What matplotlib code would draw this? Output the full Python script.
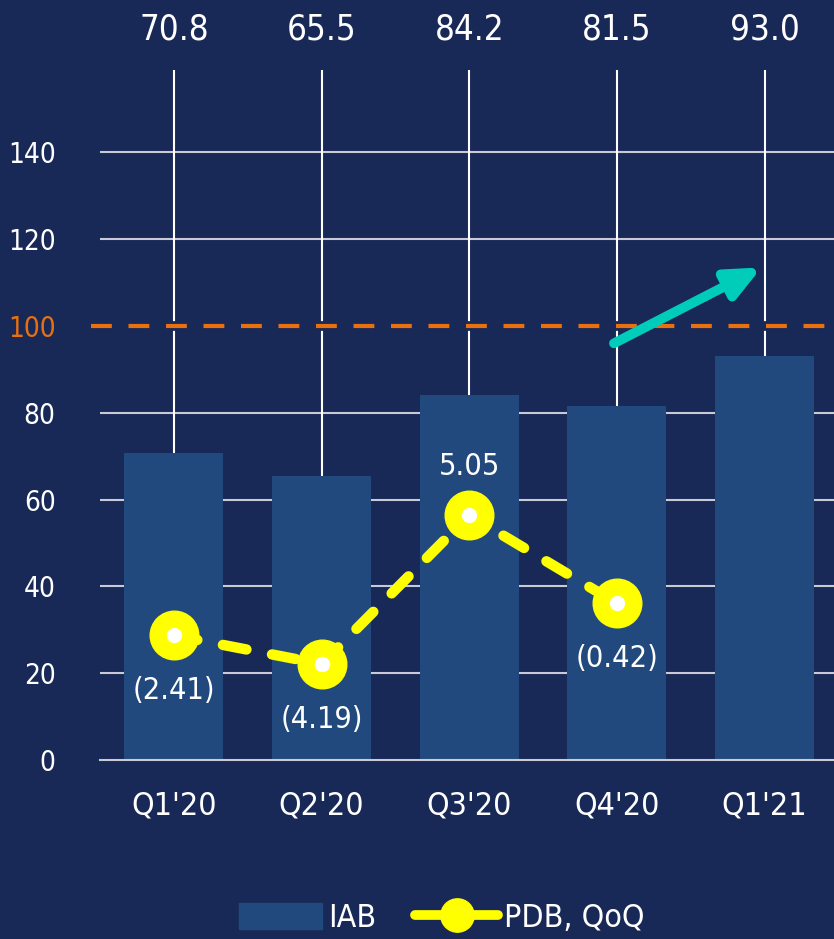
import matplotlib.pyplot as plt
import numpy as np
from matplotlib.patches import Patch
from matplotlib.lines import Line2D

# Quarterly IAB volume and PDB quarter-over-quarter change
quarters = ["Q1'20", "Q2'20", "Q3'20", "Q4'20", "Q1'21"]
iab = [70.8, 65.5, 84.2, 81.5, 93.0]
pdb_qoq = [-2.41, -4.19, 5.05, -0.42]
pdb_labels = ["(2.41)", "(4.19)", "5.05", "(0.42)"]
y_ticks = [0, 20, 40, 60, 80, 100, 120, 140]
target = 100

# colours
BG = "#182957"
BAR = "#21497d"
ORANGE = "#e8700f"
YELLOW = "#ffff00"
TEAL = "#00cdb9"

plt.rcParams['font.family'] = ['DejaVu Sans']
plt.rcParams['font.stretch'] = 'condensed'

fig = plt.figure(figsize=(8.34, 9.39), dpi=100, facecolor=BG)
ax = fig.add_axes([0.1199, 0.1906, 0.8801, 0.7349])
ax.set_facecolor(BG)

x = np.arange(len(quarters))
ax.set_xlim(-0.5, 4.47)
ax.set_ylim(0, 159)

# grid: horizontal light lines, vertical white lines through each quarter
for yv in y_ticks[1:]:
    ax.axhline(yv, color="#c9cad6", lw=1.5, zorder=0)
for xv in x:
    ax.axvline(xv, color="white", lw=1.5, zorder=0)

ax.bar(x, iab, width=0.67, color=BAR, zorder=2)

# target line with a background-coloured gap behind it
ax.axhline(target, color=BG, lw=7, zorder=1)
ax.plot([-0.56, 4.47], [target, target], color=ORANGE, lw=3,
        dashes=(5, 4), zorder=3, clip_on=False)

# bar values above the plot area
for xi, v in zip(x, iab):
    ax.text(xi, 1.058, f"{v:.1f}", transform=ax.get_xaxis_transform(),
            ha="center", va="center", color="white", fontsize=25)

# PDB change on a hidden secondary scale
ax2 = ax.twinx()
ax2.set_ylim(-10.15, 32.7)
ax2.axis("off")
ax2.plot(x[:4], pdb_qoq, color=YELLOW, lw=7.5, dashes=(2.3, 2.5),
         dash_capstyle="round", zorder=4)
ax2.plot(x[:4], pdb_qoq, "o", color=YELLOW, markersize=35, zorder=5)
ax2.plot(x[:4], pdb_qoq, "o", color="white", markersize=10, zorder=6)
for xi, v, lab in zip(x[:4], pdb_qoq, pdb_labels):
    off = 35 if v > 0 else -40
    ax2.annotate(lab, (xi, v), xytext=(0, off), textcoords="offset points",
                 ha="center", va="center", color="white", fontsize=22)

# upward trend arrow
ax2.annotate("", xy=(3.98, (113.5 - 37.66) / 3.71),
             xytext=(2.98, (96.0 - 37.66) / 3.71),
             arrowprops=dict(arrowstyle="-|>,head_length=2.0,head_width=0.9",
                             color=TEAL, lw=7, shrinkA=0, shrinkB=0))

# axes styling
for s in ["top", "right", "left"]:
    ax.spines[s].set_visible(False)
ax.spines["bottom"].set_color("#c9cad6")
ax.spines["bottom"].set_linewidth(1.5)
ax.set_xticks(x)
ax.set_xticklabels(quarters)
ax.set_yticks(y_ticks)
ax.tick_params(axis="both", length=0, colors="white")
ax.tick_params(axis="x", labelsize=23, pad=22)
ax.tick_params(axis="y", labelsize=20, pad=32)
for t in ax.get_yticklabels():
    if t.get_text() == str(target):
        t.set_color(ORANGE)

# legend
handles = [Patch(color=BAR, label="IAB"),
           Line2D([0], [0], color=YELLOW, lw=7, marker="o", markersize=24,
                  markerfacecolor=YELLOW, markeredgecolor=YELLOW,
                  solid_capstyle="round", label="PDB, QoQ")]
fig.legend(handles=handles, loc="center", bbox_to_anchor=(0.53, 0.022),
           ncol=2, frameon=False, fontsize=23, labelcolor="white",
           handlelength=2.6, handleheight=0.9, columnspacing=1.2,
           handletextpad=0.2)

plt.savefig("out.png", dpi=100, facecolor=BG)
